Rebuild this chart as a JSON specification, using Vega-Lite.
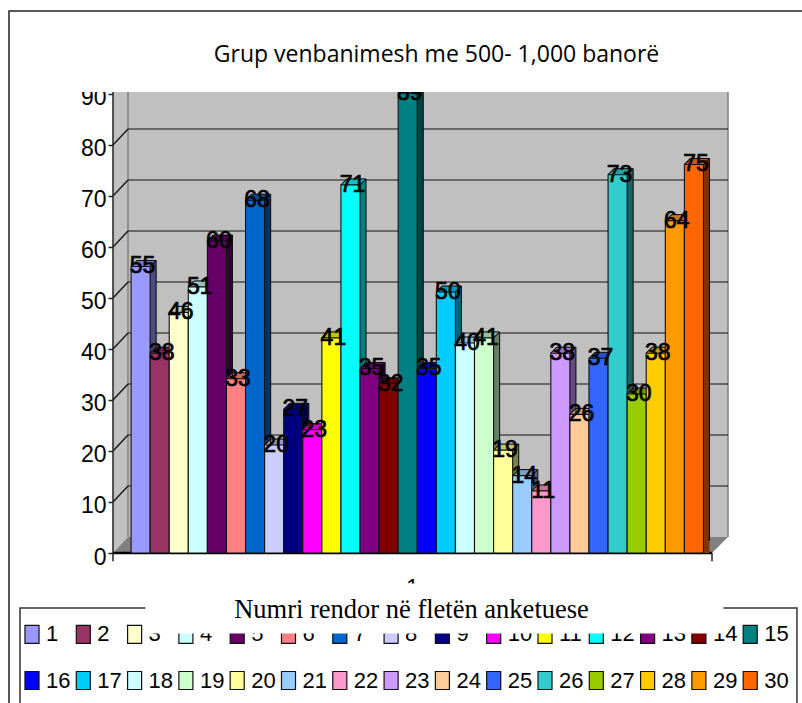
{
"$schema":"https://vega.github.io/schema/vega-lite/v6.json",
"width":616,"height":461,"autosize":"none",
"padding":{"left":113,"top":92,"right":73,"bottom":150},
"background":"white",
"view":{"stroke":null},
"datasets":{
"d":[{"n":1,"v":55},{"n":2,"v":38},{"n":3,"v":46},{"n":4,"v":51},{"n":5,"v":60},{"n":6,"v":33},{"n":7,"v":68},{"n":8,"v":20},{"n":9,"v":27},{"n":10,"v":23},{"n":11,"v":41},{"n":12,"v":71},{"n":13,"v":35},{"n":14,"v":32},{"n":15,"v":89},{"n":16,"v":35},{"n":17,"v":50},{"n":18,"v":40},{"n":19,"v":41},{"n":20,"v":19},{"n":21,"v":14},{"n":22,"v":11},{"n":23,"v":38},{"n":24,"v":26},{"n":25,"v":37},{"n":26,"v":73},{"n":27,"v":30},{"n":28,"v":38},{"n":29,"v":64},{"n":30,"v":75}],
"t":[{"n":0.3397,"n2":31.786,"v":10,"v2":10},{"n":0.3397,"n2":31.786,"v":20,"v2":20},{"n":0.3397,"n2":31.786,"v":30,"v2":30},{"n":0.3397,"n2":31.786,"v":40,"v2":40},{"n":0.3397,"n2":31.786,"v":50,"v2":50},{"n":0.3397,"n2":31.786,"v":60,"v2":60},{"n":0.3397,"n2":31.786,"v":70,"v2":70},{"n":0.3397,"n2":31.786,"v":80,"v2":80}]
},
"data":{"name":"d"},
"encoding":{
"x":{"field":"n","type":"quantitative","scale":{"domain":[-0.4465,31.838],"nice":false,"zero":false,"padding":0},"axis":{"title":"Numri rendor në fletën anketuese","titleFont":"Liberation Serif","titleFontSize":26.5,"titleFontWeight":"normal","titleColor":"black","titleX":298,"titleY":13,"titleAnchor":"middle","offset":30,"domain":false,"ticks":true,"values":[16.377],"tickColor":"white","tickWidth":578,"tickSize":50,"tickRound":false,"labels":false,"grid":false,"zindex":1}},
"y":{"field":"v","type":"quantitative","stack":null,"scale":{"domain":[0,90.39],"nice":false,"zero":false},"axis":{"title":null,"values":[0,10,20,30,40,50,60,70,80,90],"grid":false,"domain":false,"tickColor":"#222222","tickSize":5,"tickWidth":1.5,"labelFont":"Liberation Sans","labelFontSize":23,"labelColor":"black","labelPadding":2,"labelOffset":4,"labelFlush":false}}
},
"layer":[
{"data":{"values":[{"n":-5.897,"n2":40,"v":106.27,"v2":-40}]},"mark":{"type":"rect","fill":null,"stroke":"#222222","strokeWidth":1.5},"encoding":{"x2":{"field":"n2"},"y2":{"field":"v2"}}},
{"data":{"values":[{"n":16.51,"v":97.65,"s":"Grup venbanimesh me 500- 1,000 banorë"}]},"mark":{"type":"text","font":"Open Sans","fontSize":23,"color":"black","baseline":"middle"},"encoding":{"text":{"field":"s"}}},
{"data":{"values":[{"n":-5.321,"n2":35.4,"v":-10.78,"v2":-40}]},"mark":{"type":"rect","fill":null,"stroke":"#333333","strokeWidth":1.5},"encoding":{"x2":{"field":"n2"},"y2":{"field":"v2"}}},
{"data":{"values":[{"n":15.25,"v":-7.0,"s":"1"}]},"mark":{"type":"text","font":"Liberation Sans","fontSize":23,"color":"black","baseline":"middle"},"encoding":{"text":{"field":"s"}}},
{"data":{"values":[{"n":-4,"n2":-0.52,"v":90.39,"v2":93}]},"mark":{"type":"rect","fill":"white"},"encoding":{"x2":{"field":"n2"},"y2":{"field":"v2"}}},
{"data":{"values":[{"n":-0.4465,"v":90.39,"v2":0},{"n":0.3397,"v":90.39,"v2":3.137}]},"mark":{"type":"area","fill":"#C0C0C0","orient":"vertical","clip":true},"encoding":{"y2":{"field":"v2"}}},
{"data":{"values":[{"n":0.3397,"n2":31.786,"v":3.137,"v2":90.39}]},"mark":{"type":"rect","fill":"#C0C0C0","clip":true},"encoding":{"x2":{"field":"n2"},"y2":{"field":"v2"}}},
{"data":{"values":[{"n":0.3397,"n2":0.3397,"v":3.137,"v2":90.39},{"n":31.786,"n2":31.786,"v":3.137,"v2":90.39}]},"mark":{"type":"rule","stroke":"#808080","strokeWidth":1.5},"encoding":{"x2":{"field":"n2"},"y2":{"field":"v2"}}},
{"data":{"values":[{"n":-0.4465,"v":0,"v2":0},{"n":0.3397,"v":3.137,"v2":0},{"n":30.947,"v":3.137,"v2":0},{"n":31.786,"v":3.137,"v2":3.137}]},"mark":{"type":"area","fill":"#808080","orient":"vertical"},"encoding":{"y2":{"field":"v2"}}},
{"data":{"name":"t"},"mark":{"type":"rule","stroke":"#111111","strokeWidth":1.2,"yOffset":-16,"y2Offset":-16},"encoding":{"x2":{"field":"n2"},"y2":{"field":"v2"}}},
{"data":{"values":[{"n":-0.4465,"n2":0.3397,"v":10,"v2":10},{"n":-0.4465,"n2":0.3397,"v":20,"v2":20},{"n":-0.4465,"n2":0.3397,"v":30,"v2":30},{"n":-0.4465,"n2":0.3397,"v":40,"v2":40},{"n":-0.4465,"n2":0.3397,"v":50,"v2":50},{"n":-0.4465,"n2":0.3397,"v":60,"v2":60},{"n":-0.4465,"n2":0.3397,"v":70,"v2":70},{"n":-0.4465,"n2":0.3397,"v":80,"v2":80}]},"mark":{"type":"rule","stroke":"#111111","strokeWidth":1.2,"y2Offset":-16},"encoding":{"x2":{"field":"n2"},"y2":{"field":"v2"}}},
{"data":{"values":[{"n":-0.4465,"n2":-0.4465,"v":-1.6,"v2":90.39},{"n":30.947,"n2":30.947,"v":-1.6,"v2":0}]},"mark":{"type":"rule","stroke":"#222222","strokeWidth":1.5},"encoding":{"x2":{"field":"n2"},"y2":{"field":"v2"}}},
{"data":{"values":[{"n":-0.4465,"n2":30.947,"v":0,"v2":0}]},"mark":{"type":"rule","stroke":"black","strokeWidth":2.5},"encoding":{"x2":{"field":"n2"},"y2":{"field":"v2"}}},

{"mark":{"type":"bar","orient":"vertical","width":19.08,"clip":true,"xOffset":6,"yOffset":-12,"y2Offset":-12},"encoding":{"fill":{"field":"n","type":"ordinal","legend":null,"scale":{"range":["#4D4D80","#4D1A33","#808066","#668080","#330033","#804040","#003366","#666680","#000040","#800080","#808000","#008080","#400040","#400000","#004040","#000080","#006680","#668080","#668066","#80804D","#4D6680","#804D66","#664D80","#80664D","#1A3380","#1A6666","#4D6600","#806600","#804D00","#803300"]}}}},
{"mark":{"type":"bar","orient":"vertical","width":19.08,"clip":true,"xOffset":5,"yOffset":-11,"y2Offset":-11},"encoding":{"fill":{"field":"n","type":"ordinal","legend":null}}},
{"mark":{"type":"bar","orient":"vertical","width":19.08,"clip":true,"xOffset":4,"yOffset":-10,"y2Offset":-10},"encoding":{"fill":{"field":"n","type":"ordinal","legend":null}}},
{"mark":{"type":"bar","orient":"vertical","width":19.08,"clip":true,"xOffset":3,"yOffset":-9,"y2Offset":-9},"encoding":{"fill":{"field":"n","type":"ordinal","legend":null}}},
{"mark":{"type":"bar","orient":"vertical","width":19.08,"clip":true,"xOffset":2,"yOffset":-8,"y2Offset":-8},"encoding":{"fill":{"field":"n","type":"ordinal","legend":null}}},
{"mark":{"type":"bar","orient":"vertical","width":19.08,"clip":true,"xOffset":1,"yOffset":-7,"y2Offset":-7},"encoding":{"fill":{"field":"n","type":"ordinal","legend":null}}},

{"mark":{"type":"rule","clip":true,"strokeWidth":1.3,"xOffset":-8.54,"x2Offset":10.54,"yOffset":-7,"y2Offset":-7},"encoding":{"x2":{"field":"n"},"y2":{"field":"v"},"stroke":{"field":"n","type":"ordinal","legend":null,"scale":{"range":["#7A7ACC","#7A2952","#CCCCA3","#A3CCCC","#520052","#CC6666","#0052A3","#A3A3CC","#000066","#CC00CC","#CCCC00","#00CCCC","#660066","#660000","#006666","#0000CC","#00A3CC","#A3CCCC","#A3CCA3","#CCCC7A","#7AA3CC","#CC7AA3","#A37ACC","#CCA37A","#2952CC","#29A3A3","#7AA300","#CCA300","#CC7A00","#CC5200"]}}}},
{"mark":{"type":"rule","clip":true,"strokeWidth":1.3,"xOffset":-7.54,"x2Offset":11.54,"yOffset":-8,"y2Offset":-8},"encoding":{"x2":{"field":"n"},"y2":{"field":"v"},"stroke":{"field":"n","type":"ordinal","legend":null}}},
{"mark":{"type":"rule","clip":true,"strokeWidth":1.3,"xOffset":-6.54,"x2Offset":12.54,"yOffset":-9,"y2Offset":-9},"encoding":{"x2":{"field":"n"},"y2":{"field":"v"},"stroke":{"field":"n","type":"ordinal","legend":null}}},
{"mark":{"type":"rule","clip":true,"strokeWidth":1.3,"xOffset":-5.54,"x2Offset":13.54,"yOffset":-10,"y2Offset":-10},"encoding":{"x2":{"field":"n"},"y2":{"field":"v"},"stroke":{"field":"n","type":"ordinal","legend":null}}},
{"mark":{"type":"rule","clip":true,"strokeWidth":1.3,"xOffset":-4.54,"x2Offset":14.54,"yOffset":-11,"y2Offset":-11},"encoding":{"x2":{"field":"n"},"y2":{"field":"v"},"stroke":{"field":"n","type":"ordinal","legend":null}}},

{"mark":{"type":"rule","clip":true,"stroke":"#111111","strokeWidth":1.1,"xOffset":-3.54,"x2Offset":15.54,"yOffset":-12,"y2Offset":-12},"encoding":{"x2":{"field":"n"},"y2":{"field":"v"}}},
{"mark":{"type":"rule","clip":true,"stroke":"#111111","strokeWidth":1.1,"xOffset":15.54,"x2Offset":15.54,"yOffset":-12,"y2Offset":-12},"encoding":{"x2":{"field":"n"},"y2":{"datum":0}}},
{"mark":{"type":"rule","clip":true,"stroke":"#111111","strokeWidth":1.1,"xOffset":9.54,"x2Offset":15.54,"yOffset":-6,"y2Offset":-12},"encoding":{"x2":{"field":"n"},"y2":{"field":"v"}}},
{"mark":{"type":"rule","clip":true,"stroke":"#111111","strokeWidth":1.1,"xOffset":-9.54,"x2Offset":-3.54,"yOffset":-6,"y2Offset":-12},"encoding":{"x2":{"field":"n"},"y2":{"field":"v"}}},

{"mark":{"type":"bar","orient":"vertical","width":19.08,"clip":true,"yOffset":-6,"y2Offset":-6,"stroke":"#111111","strokeWidth":1.1},"encoding":{"color":{"field":"n","type":"ordinal","scale":{"range":["#9999FF","#993366","#FFFFCC","#CCFFFF","#660066","#FF8080","#0066CC","#CCCCFF","#000080","#FF00FF","#FFFF00","#00FFFF","#800080","#800000","#008080","#0000FF","#00CCFF","#CCFFFF","#CCFFCC","#FFFF99","#99CCFF","#FF99CC","#CC99FF","#FFCC99","#3366FF","#33CCCC","#99CC00","#FFCC00","#FF9900","#FF6600"]},
"legend":{"orient":"none","legendX":-92,"legendY":531,"columns":15,"direction":"horizontal","title":null,"symbolType":"M-0.78,-1H0.78V1H-0.78Z","symbolSize":324,"symbolStrokeColor":"#111111","symbolStrokeWidth":1.2,"labelFont":"Liberation Sans","labelFontSize":22,"labelColor":"black","labelOffset":3,"columnPadding":1.3,"rowPadding":22.5,"gridAlign":"each"}}}},
{"mark":{"type":"text","clip":true,"font":"Liberation Sans","fontSize":23,"color":"black","stroke":"black","strokeWidth":0.7,"baseline":"middle","dx":2,"dy":-6},"encoding":{"text":{"field":"v","type":"quantitative"}}}
]
}
